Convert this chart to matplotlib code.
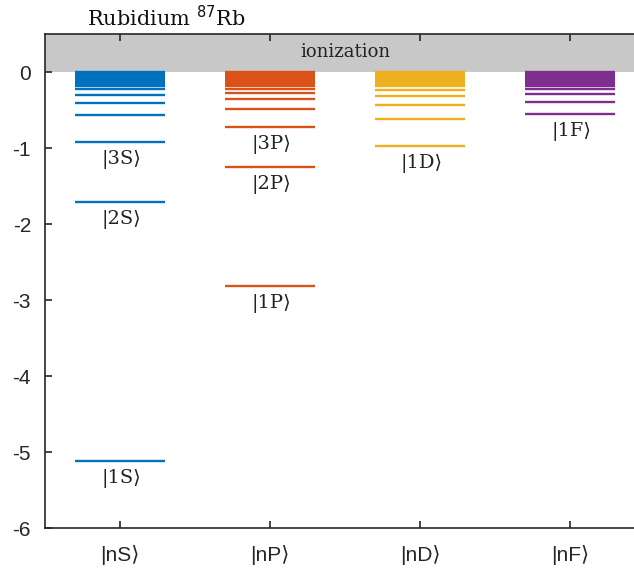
import matplotlib
matplotlib.use("Agg")
import matplotlib.pyplot as plt

plt.rcParams['axes.unicode_minus'] = False

# energy levels (arbitrary units, 0 = ionization)
categories = ['|nS⟩', '|nP⟩', '|nD⟩', '|nF⟩']
s_levels = [-5.12, -1.71, -0.92, -0.57, -0.41, -0.30, -0.23,
            -0.18, -0.16, -0.14, -0.12, -0.10, -0.085, -0.07, -0.06, -0.05, -0.04, -0.03, -0.02, -0.01, 0.0]
p_levels = [-2.82, -1.25, -0.72, -0.49, -0.35, -0.27, -0.23,
            -0.18, -0.16, -0.14, -0.12, -0.10, -0.085, -0.07, -0.06, -0.05, -0.04, -0.03, -0.02, -0.01, 0.0]
d_levels = [-0.98, -0.62, -0.43, -0.31, -0.24,
            -0.18, -0.16, -0.14, -0.12, -0.10, -0.085, -0.07, -0.06, -0.05, -0.04, -0.03, -0.02, -0.01, 0.0]
f_levels = [-0.55, -0.39, -0.29, -0.22,
            -0.18, -0.16, -0.14, -0.12, -0.10, -0.085, -0.07, -0.06, -0.05, -0.04, -0.03, -0.02, -0.01, 0.0]
levels = [s_levels, p_levels, d_levels, f_levels]
colors = ['#0072BD', '#D95319', '#EDB120', '#7E2F8E']

# state labels: (category index, level, text)
state_labels = [(0, -5.12, '|1S⟩'), (0, -1.71, '|2S⟩'), (0, -0.92, '|3S⟩'),
                (1, -2.82, '|1P⟩'), (1, -1.25, '|2P⟩'), (1, -0.72, '|3P⟩'),
                (2, -0.98, '|1D⟩'), (3, -0.55, '|1F⟩')]

serif = ['DejaVu Serif', 'DejaVu Sans']
sans = ['Liberation Sans', 'DejaVu Sans']

fig = plt.figure(figsize=(6.34, 5.76), dpi=100)
ax = fig.add_axes([45/634, 48/576, 600/634, 494/576])

half = 0.3
for i, (lv, c) in enumerate(zip(levels, colors)):
    x = i + 1
    ax.hlines(lv, x - half, x + half, colors=c, lw=1.7)

for i, e, t in state_labels:
    ax.annotate(t, (i + 1, e), xytext=(1, -12.5), textcoords='offset points',
                ha='center', va='center', fontsize=14, family=serif, color='#222222')

ax.axhspan(0, 0.5, color='#c8c8c8', zorder=0, lw=0)
ax.text(2.5, 0.26, 'ionization', ha='center', va='center', fontsize=13,
        family=serif, color='#222222')

ax.set_xlim(0.5, 4.5)
ax.set_ylim(-6, 0.5)
ax.set_xticks(range(1, 5))
ax.set_xticklabels(categories, family=sans, fontsize=15)
ax.set_yticks(range(-6, 1))
for lab in ax.get_yticklabels():
    lab.set_family(sans)
    lab.set_fontsize(15)
ax.tick_params(direction='in', top=True, right=True, length=5, width=1.2,
               color='#262626', labelcolor='#262626')
ax.tick_params(axis='x', pad=12)
ax.tick_params(axis='y', pad=10)
for sp in ax.spines.values():
    sp.set_color('#262626')
    sp.set_linewidth(1.2)

ax.text(1.31, 0.605, 'Rubidium $^{87}$Rb', ha='center', va='baseline', fontsize=15,
        family=serif, color='#111111')

fig.savefig('out.png', dpi=100)
